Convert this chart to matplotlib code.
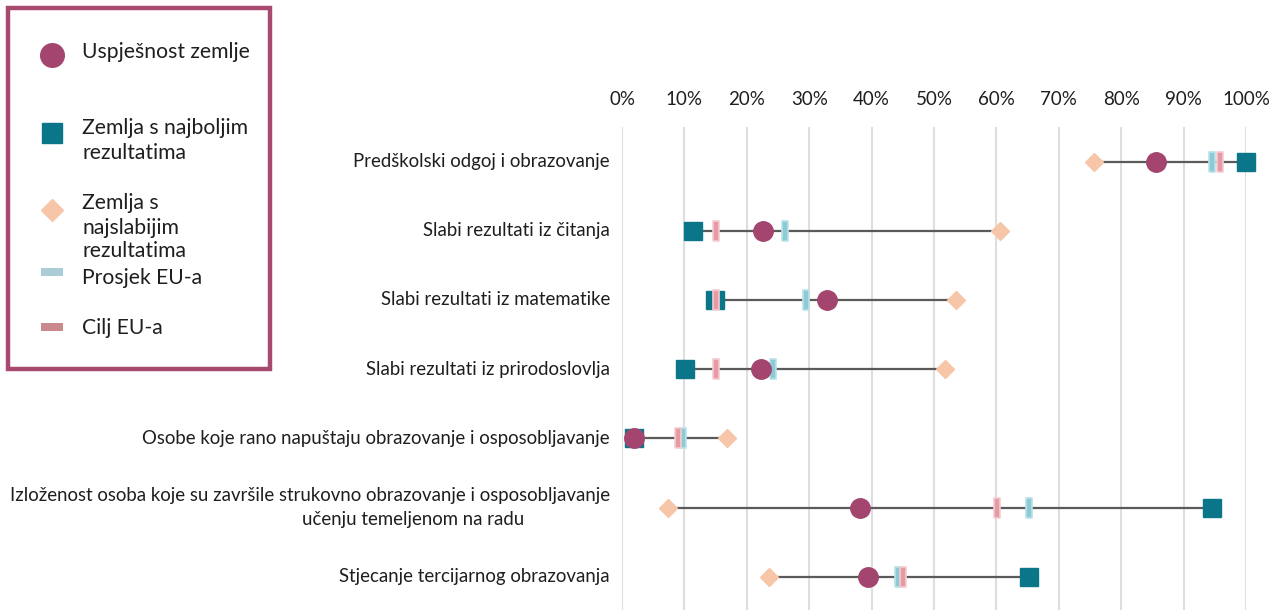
import matplotlib
matplotlib.use("Agg")
import matplotlib.pyplot as plt
from matplotlib.patches import Rectangle
from matplotlib.transforms import blended_transform_factory, offset_copy

plt.rcParams['font.family'] = ['Lato', 'DejaVu Sans']

# ---------------- data ----------------
categories = [
    "Predškolski odgoj i obrazovanje",
    "Slabi rezultati iz čitanja",
    "Slabi rezultati iz matematike",
    "Slabi rezultati iz prirodoslovlja",
    "Osobe koje rano napuštaju obrazovanje i osposobljavanje",
    "Izloženost osoba koje su završile strukovno obrazovanje i osposobljavanje\nučenju temeljenom na radu",
    "Stjecanje tercijarnog obrazovanja",
]
country = [85.6, 22.6, 32.8, 22.3, 2.0, 38.2, 39.4]
best = [100.0, 11.4, 14.9, 10.1, 2.0, 94.5, 65.2]
worst = [75.6, 60.6, 53.5, 51.7, 16.8, 7.4, 23.5]
eu_avg = [94.6, 26.2, 29.5, 24.2, 9.8, 65.2, 44.2]
eu_target = [95.9, 15.0, 15.0, 15.0, 9.0, 60.1, 45.0]
xticks = [0, 10, 20, 30, 40, 50, 60, 70, 80, 90, 100]
xticklabels = ["0%", "10%", "20%", "30%", "40%", "50%", "60%", "70%", "80%", "90%", "100%"]

legend_labels = ["Uspješnost zemlje",
                 "Zemlja s najboljim\nrezultatima",
                 "Zemlja s\nnajslabijim\nrezultatima",
                 "Prosjek EU-a",
                 "Cilj EU-a"]

# ---------------- style ----------------
C_COUNTRY = "#A3456F"
C_BEST = "#0B7689"
C_WORST = "#F7C6A8"
C_AVG = "#8CCAD6"
C_AVG_EDGE = "#B9E1E9"
C_TGT = "#E59BA4"
C_TGT_EDGE = "#F6CCD1"
C_LINE = "#5A5A5A"
C_GRID = "#DEDEDE"
C_TEXT = "#1E1E1E"
C_FRAME = "#A8496F"

FS_LAB = 13.4
FS_TICK = 13.5
FS_LEG = 15.2

W, H = 1279, 610
fig = plt.figure(figsize=(W / 100, H / 100), dpi=100)
ax = fig.add_axes([622 / W, 0, (1246 - 622) / W, 1 - 127 / H])

n = len(categories)
ys = list(range(n))
ax.set_xlim(0, 100)
ax.set_ylim(6.48, -0.5)

for s in ax.spines.values():
    s.set_visible(False)
ax.set_xticks(xticks)
ax.set_xticklabels(xticklabels, fontsize=FS_TICK, color=C_TEXT)
ax.xaxis.tick_top()
ax.tick_params(axis='x', length=0, pad=14)
ax.set_yticks([])
ax.grid(axis='x', color=C_GRID, linewidth=1.5)
ax.set_axisbelow(True)

rect_verts = [(-0.3, -1), (0.3, -1), (0.3, 1), (-0.3, 1), (-0.3, -1)]

for i in range(n):
    lo = min(best[i], worst[i], country[i])
    hi = max(best[i], worst[i], country[i])
    ax.plot([lo, hi], [i, i], color=C_LINE, lw=1.6, zorder=2, solid_capstyle='butt')

ax.plot(best, ys, ls='none', marker='s', ms=13, mfc=C_BEST, mec=C_BEST, zorder=3, clip_on=False)
ax.plot(worst, ys, ls='none', marker='D', ms=9.6, mfc=C_WORST, mec=C_WORST, zorder=3, clip_on=False)
ax.plot(eu_avg, ys, ls='none', marker=rect_verts, ms=14.5, mfc=C_AVG, mec=C_AVG_EDGE, mew=1.2, zorder=4, clip_on=False)
ax.plot(eu_target, ys, ls='none', marker=rect_verts, ms=14.5, mfc=C_TGT, mec=C_TGT_EDGE, mew=1.2, zorder=5, clip_on=False)
ax.plot(country, ys, ls='none', marker='o', ms=14, mfc=C_COUNTRY, mec=C_COUNTRY, zorder=6, clip_on=False)

# category labels
trans = blended_transform_factory(ax.transAxes, ax.transData)
for i, lab in enumerate(categories):
    lines = lab.split("\n")
    if len(lines) == 1:
        ax.text(0, i, lines[0], transform=offset_copy(trans, fig=fig, x=-12, y=0, units='dots'),
                ha='right', va='center', fontsize=FS_LAB, color=C_TEXT)
    else:
        ax.text(0, i, lines[0], transform=offset_copy(trans, fig=fig, x=-12, y=12, units='dots'),
                ha='right', va='center', fontsize=FS_LAB, color=C_TEXT)
        ax.text(0, i, lines[1], transform=offset_copy(trans, fig=fig, x=-98, y=-12, units='dots'),
                ha='right', va='center', fontsize=FS_LAB, color=C_TEXT)

# ---------------- legend box ----------------
lax = fig.add_axes([0, 0, 1, 1], zorder=10)
lax.set_xlim(0, W)
lax.set_ylim(H, 0)
lax.axis('off')
lax.patch.set_alpha(0)
lax.add_patch(Rectangle((8, 8), 262, 361, fill=False, ec=C_FRAME, lw=3.2))

mx = 52
tx = 82
lax.plot([mx], [55], marker='o', ms=17, mfc=C_COUNTRY, mec=C_COUNTRY, ls='none')
lax.plot([mx], [133], marker='s', ms=14.5, mfc=C_BEST, mec=C_BEST, ls='none')
lax.plot([mx], [210], marker='D', ms=11, mfc=C_WORST, mec=C_WORST, ls='none')
lax.add_patch(Rectangle((41, 268), 22, 8, fc="#A9CCD6", ec='none'))
lax.add_patch(Rectangle((41, 323), 22, 8, fc="#C98A8E", ec='none'))

legend_y = [[52], [128, 153], [203, 228, 251], [278], [328]]
for lab, yl in zip(legend_labels, legend_y):
    for line, yy in zip(lab.split("\n"), yl):
        lax.text(tx, yy, line, ha='left', va='center', fontsize=FS_LEG, color=C_TEXT)

fig.savefig("out.png", dpi=100)
